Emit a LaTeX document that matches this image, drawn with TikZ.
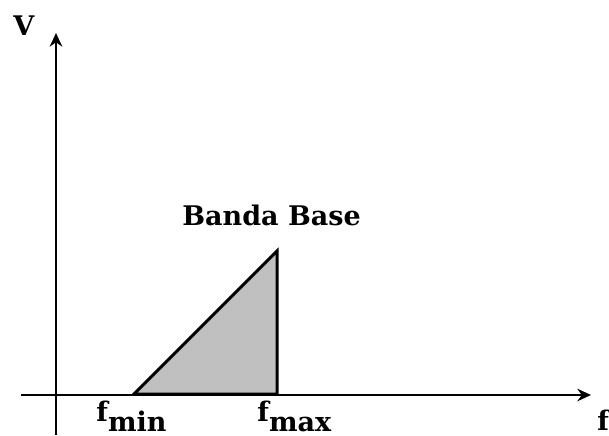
\documentclass[tikz,border=0pt]{standalone}
\usepackage{fontspec}
\setmainfont{DejaVu Serif}
\usepackage{tikz}
\usetikzlibrary{arrows.meta,positioning}
\definecolor{band}{HTML}{C0C0C0}
\tikzset{axis/.style={-{Stealth[length=2.4mm,width=2.2mm]},line width=1.1pt},
         lbl/.style={inner sep=0pt,font=\fontsize{13.5}{16}\selectfont\bfseries},
         edge/.style={line width=1.5pt,line join=miter}}
\newcommand{\freq}[1]{f\raisebox{-5pt}{#1}}

\begin{document}
\begin{tikzpicture}[x=0.5pt,y=-0.5pt]
\useasboundingbox (0,0) rectangle (609,435);
\coordinate (vlow) at (56,435);
\coordinate (vtop) at (56,33);
\coordinate (hleft) at (21,395);
\coordinate (hright) at (591,395);
\coordinate (fmin) at (134,394);
\coordinate (fmax) at (277,394);
\coordinate (peak) at (277,251);
\filldraw[edge,fill=band] (fmin) -- (peak) -- (fmax) -- cycle;
\draw[axis] (vlow) -- (vtop);
\draw[axis] (hleft) -- (hright);
\node[lbl,anchor=base west] (vlab) at (13,35) {V};
\node[lbl,anchor=base west] (flab) at (597,430) {f};
\node[lbl,anchor=base west] (minlab) at (96,421) {\freq{min}};
\node[lbl,anchor=base west] (maxlab) at (257,421) {\freq{max}};
\node[lbl,anchor=base west] (bblab) at (182,225) {Banda Base};
\end{tikzpicture}
\end{document}
